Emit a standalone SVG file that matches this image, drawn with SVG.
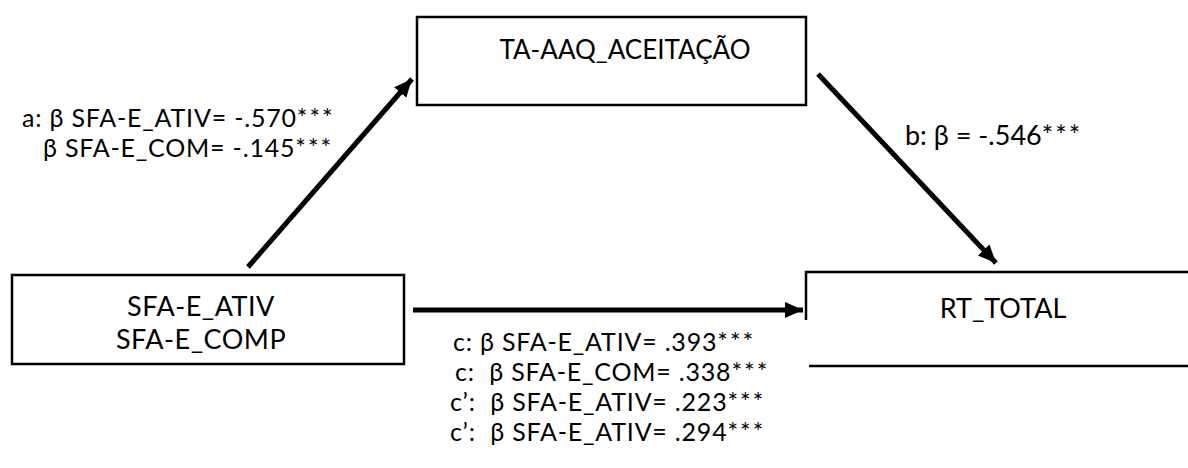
<svg xmlns="http://www.w3.org/2000/svg" width="1188" height="468" viewBox="0 0 1188 468">
<style>
.box{fill:#fff;stroke:#000;stroke-width:2.5}
.t{font-family:Lato,"Liberation Sans",sans-serif;font-size:27px;fill:#000}
.l{font-size:25px;letter-spacing:0.8px}
.m{text-anchor:middle}
.s{letter-spacing:2px}
.conn{stroke:#000;stroke-width:5;fill:none}
</style>
<defs>
<marker id="ah" markerUnits="userSpaceOnUse" markerWidth="20" markerHeight="18" refX="18" refY="8" orient="auto">
<path d="M0,0 L18,8 L0,16 Z" fill="#000"/>
</marker>
</defs>
<rect width="1188" height="468" fill="#fff"/>
<g id="node-ta">
<rect class="box" x="417" y="17" width="389" height="88"/>
<text class="t m" x="625" y="59" style="font-size:26px">TA-AAQ_ACEITAÇÃO</text>
</g>
<g id="node-sfa">
<rect class="box" x="12" y="275" width="392" height="89"/>
<text class="t m" x="201" y="316" style="letter-spacing:0.5px">SFA-E_ATIV</text>
<text class="t m" x="201" y="349" style="letter-spacing:0.5px">SFA-E_COMP</text>
</g>
<g id="node-rt">
<path d="M806,320 L806,272 L1190,272" fill="none" stroke="#000" stroke-width="2.5"/>
<path d="M809,366 L1190,366" fill="none" stroke="#000" stroke-width="2.5"/>
<text class="t m" x="1003" y="318">RT_TOTAL</text>
</g>
<g id="connectors">
<line class="conn" x1="248" y1="267" x2="412" y2="79" marker-end="url(#ah)"/>
<line class="conn" x1="818" y1="74" x2="996" y2="263" marker-end="url(#ah)"/>
<line class="conn" x1="413" y1="310" x2="803" y2="310" marker-end="url(#ah)"/>
</g>
<g id="labels">
<text class="t l" x="22" y="127">a: β SFA-E_ATIV= -.570<tspan class="s">***</tspan></text>
<text class="t l" x="43" y="157">β SFA-E_COM= -.145<tspan class="s">***</tspan></text>
<text class="t" x="905" y="145">b: β = -.546<tspan class="s">***</tspan></text>
<text class="t l" x="453" y="351">c: β SFA-E_ATIV= .393<tspan class="s">***</tspan></text>
<text class="t l" x="455" y="381" xml:space="preserve">c:  β SFA-E_COM= .338<tspan class="s">***</tspan></text>
<text class="t l" x="450" y="411" xml:space="preserve">c’:  β SFA-E_ATIV= .223<tspan class="s">***</tspan></text>
<text class="t l" x="450" y="441" xml:space="preserve">c’:  β SFA-E_ATIV= .294<tspan class="s">***</tspan></text>
</g>
</svg>
